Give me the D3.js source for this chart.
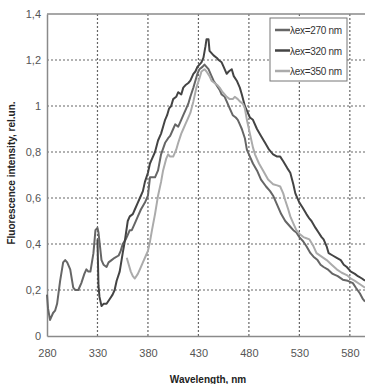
<!DOCTYPE html>
<html>
<head>
<meta charset="utf-8">
<script src="https://cdn.jsdelivr.net/npm/d3@7/dist/d3.min.js"></script>
<style>
  body { margin: 0; background: #fff; }
  svg { display: block; font-family: "Liberation Sans", Arial, sans-serif; }
</style>
</head>
<body>
<svg id="chart" width="365" height="384"></svg>
<script>
// excitation 270 nm
const wl270 = [280,281,283,286,288,290,293,296,298,300,303,306,308,311,314,317,319,321,323,326,328,330,331,334,336,339,341,344,347,351,353,355,358,360,362,364,367,370,373,377,380,382,385,387,390,393,397,400,402,405,407,410,412,415,417,420,422,425,427,429,431,434,436,438,440,443,445,448,451,453,456,458,461,464,467,469,471,473,476,478,481,484,488,492,497,501,504,508,512,516,521,524,527,530,534,537,541,544,548,551,554,558,563,568,573,578,583,586,590,593,595];
const int270 = [0.18,0.12,0.07,0.10,0.11,0.14,0.24,0.32,0.33,0.32,0.29,0.21,0.20,0.20,0.23,0.27,0.29,0.28,0.28,0.36,0.46,0.47,0.45,0.33,0.31,0.30,0.32,0.33,0.34,0.35,0.37,0.40,0.42,0.44,0.46,0.46,0.49,0.52,0.55,0.58,0.61,0.69,0.69,0.69,0.72,0.79,0.84,0.86,0.87,0.90,0.92,0.91,0.93,0.96,0.98,1.01,1.04,1.08,1.11,1.14,1.16,1.17,1.18,1.17,1.16,1.13,1.11,1.09,1.07,1.05,1.04,1.02,0.99,0.96,0.95,0.94,0.92,0.90,0.86,0.81,0.78,0.75,0.72,0.68,0.65,0.63,0.61,0.57,0.53,0.50,0.475,0.46,0.45,0.43,0.41,0.39,0.36,0.345,0.33,0.31,0.30,0.29,0.27,0.26,0.245,0.24,0.23,0.21,0.185,0.16,0.15];

// excitation 320 nm
const wl320 = [330,331,332,334,336,339,342,345,347,349,352,355,357,360,362,365,367,370,372,375,377,380,382,384,387,390,393,395,397,399,401,403,405,408,410,413,415,417,420,422,425,427,429,431,433,435,437,438,440,441,443,445,448,450,453,455,458,460,463,465,468,471,473,476,478,481,484,488,492,496,500,504,508,511,514,518,521,524,526,530,533,537,540,542,546,549,552,554,557,559,563,567,571,574,577,581,585,588,592,595];
const int320 = [0.42,0.22,0.17,0.13,0.14,0.14,0.16,0.18,0.20,0.24,0.28,0.36,0.41,0.50,0.52,0.53,0.55,0.58,0.60,0.63,0.67,0.71,0.75,0.77,0.80,0.85,0.88,0.91,0.94,0.96,0.99,1.00,1.03,1.04,1.06,1.05,1.08,1.09,1.10,1.11,1.14,1.15,1.17,1.18,1.19,1.21,1.26,1.29,1.29,1.24,1.23,1.22,1.21,1.20,1.19,1.17,1.14,1.15,1.16,1.13,1.11,1.08,1.05,1.00,0.98,0.95,0.94,0.90,0.87,0.84,0.81,0.79,0.78,0.78,0.76,0.73,0.71,0.66,0.62,0.58,0.56,0.53,0.51,0.50,0.47,0.45,0.43,0.42,0.39,0.36,0.35,0.34,0.33,0.31,0.30,0.28,0.27,0.26,0.25,0.24];

// excitation 350 nm
const wl350 = [359,361,363,365,367,370,372,375,378,380,382,384,387,390,393,395,398,400,402,405,408,410,413,415,417,419,422,425,428,431,433,436,438,441,443,446,449,451,454,456,458,461,464,466,469,471,474,476,478,481,484,486,490,494,499,504,508,511,514,516,519,521,524,527,530,534,537,540,544,547,552,557,562,567,572,577,581,585,590,595];
const int350 = [0.34,0.31,0.28,0.26,0.25,0.27,0.29,0.32,0.35,0.37,0.41,0.46,0.53,0.61,0.67,0.72,0.77,0.79,0.78,0.78,0.81,0.84,0.88,0.90,0.92,0.94,0.97,1.02,1.08,1.12,1.15,1.16,1.15,1.13,1.11,1.10,1.09,1.08,1.06,1.05,1.04,1.03,1.03,1.04,1.03,1.02,1.01,0.99,0.94,0.88,0.82,0.79,0.75,0.72,0.68,0.66,0.655,0.65,0.62,0.59,0.55,0.52,0.49,0.46,0.445,0.43,0.425,0.42,0.39,0.36,0.345,0.33,0.31,0.29,0.275,0.265,0.25,0.24,0.225,0.21];

const xTicks = [280,330,380,430,480,530,580];
const yTicks = [0,0.2,0.4,0.6,0.8,1,1.2,1.4];
const legendLabels = ['λex=270 nm','λex=320 nm','λex=350 nm'];

const series = [
  { wl: wl270, val: int270, color: '#666666' },
  { wl: wl320, val: int320, color: '#444444' },
  { wl: wl350, val: int350, color: '#ababab' }
];

const svg = d3.select('#chart');

const x = d3.scaleLinear().domain([280, 596]).range([47, 366]);
const y = d3.scaleLinear().domain([0, 1.4]).range([336, 14]);

// dotted grid
svg.append('g')
  .selectAll('line')
  .data(yTicks.filter(d => d > 0 && d < 1.4))
  .enter().append('line')
  .attr('x1', x(280)).attr('x2', 365)
  .attr('y1', d => y(d)).attr('y2', d => y(d))
  .attr('stroke', '#666').attr('stroke-width', 1.2)
  .attr('stroke-dasharray', '2,2');

svg.append('g')
  .selectAll('line')
  .data(xTicks.filter(d => d > 280))
  .enter().append('line')
  .attr('x1', d => x(d)).attr('x2', d => x(d))
  .attr('y1', y(1.4)).attr('y2', y(0))
  .attr('stroke', '#666').attr('stroke-width', 1.2)
  .attr('stroke-dasharray', '2,2');

// frame lines
svg.append('line')
  .attr('x1', x(280)).attr('x2', 365)
  .attr('y1', y(1.4)).attr('y2', y(1.4))
  .attr('stroke', '#8a8a8a').attr('stroke-width', 1.5);

// axes
const fmt = d => String(d).replace('.', ',');

const yAxis = svg.append('g')
  .attr('transform', 'translate(' + x(280) + ',0)')
  .call(d3.axisLeft(y).tickValues(yTicks).tickSize(0).tickPadding(6).tickFormat(fmt));
yAxis.select('.domain').attr('stroke', '#8a8a8a').attr('stroke-width', 1.5);
yAxis.selectAll('text').attr('fill', '#555').style('font-size', '11px')
  .style('font-family', '"Liberation Sans", Arial, sans-serif');

const xAxis = svg.append('g')
  .attr('transform', 'translate(0,' + y(0) + ')')
  .call(d3.axisBottom(x).tickValues(xTicks).tickSize(0).tickPadding(13).tickFormat(d3.format('d')));
xAxis.select('.domain').attr('stroke', '#8a8a8a').attr('stroke-width', 1.5);
xAxis.selectAll('text').attr('fill', '#555').style('font-size', '11px')
  .style('font-family', '"Liberation Sans", Arial, sans-serif');

// titles
svg.append('text')
  .attr('x', 208).attr('y', 383)
  .attr('text-anchor', 'middle')
  .style('font-size', '10px').style('font-weight', 'bold')
  .attr('fill', '#222')
  .text('Wavelength, nm');

svg.append('text')
  .attr('transform', 'translate(15,173) rotate(-90)')
  .attr('text-anchor', 'middle')
  .style('font-size', '10px').style('font-weight', 'bold')
  .attr('fill', '#222')
  .text('Fluorescence intensity, rel.un.');

// curves
const line = d3.line()
  .x(d => x(d[0]))
  .y(d => y(d[1]));

series.forEach(s => {
  svg.append('path')
    .datum(s.wl.map((w, i) => [w, s.val[i]]))
    .attr('d', line)
    .attr('fill', 'none')
    .attr('stroke', s.color)
    .attr('stroke-width', 2)
    .attr('stroke-linejoin', 'round');
});

// legend
const legend = svg.append('g').attr('transform', 'translate(270,18)');
legend.append('rect')
  .attr('width', 77).attr('height', 63)
  .attr('fill', '#fff').attr('stroke', '#777').attr('stroke-width', 1);

const items = legend.selectAll('.legend')
  .data(series)
  .enter().append('g')
  .attr('class', 'legend')
  .attr('transform', (d, i) => `translate(0,${12 + i * 20.5})`);

items.append('line')
  .attr('x1', 5).attr('x2', 20)
  .attr('stroke', d => d.color).attr('stroke-width', 2.5);

items.append('text')
  .attr('x', 20).attr('y', 4)
  .style('font-size', '10px')
  .style('letter-spacing', '-0.3px')
  .attr('fill', '#333')
  .text((d, i) => legendLabels[i]);
</script>
</body>
</html>
